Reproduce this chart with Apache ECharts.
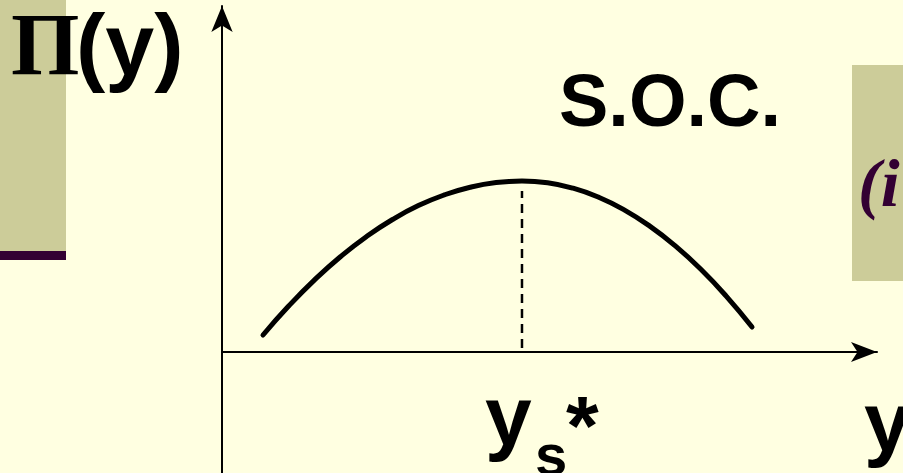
<!DOCTYPE html>
<html>
<head>
<meta charset="utf-8">
<script src="https://cdn.jsdelivr.net/npm/echarts@6/dist/echarts.min.js"></script>
<style>
html,body{margin:0;padding:0;background:#FFFFE1;}
#c{width:903px;height:473px;}
</style>
</head>
<body>
<div id="c"></div>
<script>
// Profit curve Π(y)
const curveX = [0.626, 1.021, 1.417, 1.812, 2.208, 2.603, 2.998, 3.394, 3.789, 4.185, 4.580, 4.971, 5.360, 5.751, 6.140, 6.531, 6.921, 7.311, 7.701, 8.092];
const curveY = [0.489, 1.333, 2.090, 2.758, 3.339, 3.828, 4.230, 4.539, 4.762, 4.897, 4.941, 4.889, 4.733, 4.472, 4.108, 3.637, 3.065, 2.388, 1.607, 0.720];
// dashed marker at the optimum y_s*
const optX = [4.58, 4.58];
const optY = [0.11, 4.65];
const labels = { yAxis: 'Π', yAxisArg: '(y)', soc: 'S.O.C.', opt: 'y', optSub: 's', optStar: '*', xAxis: 'y', side: '(i' };

const chart = echarts.init(document.getElementById('c'), null, {renderer: 'canvas'});
const sans = '"Liberation Sans", Arial, sans-serif';
const serif = '"Liberation Serif", "Times New Roman", serif';

chart.setOption({
  backgroundColor: '#FFFFE1',
  animation: false,
  grid: {left: 222, right: 26, top: 6, bottom: 0},
  xAxis: {
    type: 'value', min: 0, max: 10,
    axisLine: {onZero: true, symbol: ['none', 'arrow'], symbolSize: [15, 26], lineStyle: {color: '#000', width: 2}},
    axisTick: {show: false}, axisLabel: {show: false}, splitLine: {show: false}
  },
  yAxis: {
    type: 'value', min: -3.5, max: 10,
    axisLine: {symbol: ['none', 'arrow'], symbolSize: [16, 26], lineStyle: {color: '#000', width: 2}},
    axisTick: {show: false}, axisLabel: {show: false}, splitLine: {show: false}
  },
  graphic: [
    {type: 'rect', z: -10, shape: {x: 0, y: 0, width: 66, height: 251}, style: {fill: '#CCCC99'}},
    {type: 'rect', z: -10, shape: {x: 0, y: 251, width: 66, height: 9}, style: {fill: '#330033'}},
    {type: 'rect', z: -10, shape: {x: 852, y: 65, width: 51, height: 216}, style: {fill: '#CCCC99'}},
    {type: 'text', z: 10, style: {text: labels.side, x: 858, y: 188, verticalAlign: 'middle', font: 'italic bold 68px ' + serif, fill: '#330033'}},
    {type: 'text', z: 10, style: {text: labels.yAxis, x: 11, y: 51, verticalAlign: 'middle', font: 'bold 88px ' + serif, fill: '#000'}},
    {type: 'text', z: 10, style: {text: labels.yAxisArg, x: 76, y: 51, verticalAlign: 'middle', font: 'bold 88px ' + sans, fill: '#000'}},
    {type: 'text', z: 10, style: {text: labels.soc, x: 559, y: 106, verticalAlign: 'middle', font: 'bold 74px ' + sans, fill: '#000'}},
    {type: 'text', z: 10, style: {text: labels.opt, x: 485, y: 422, verticalAlign: 'middle', font: 'bold 84px ' + sans, fill: '#000'}},
    {type: 'text', z: 10, style: {text: labels.optSub, x: 535, y: 459, verticalAlign: 'middle', font: 'bold 58px ' + sans, fill: '#000'}},
    {type: 'text', z: 10, style: {text: labels.optStar, x: 566, y: 432, verticalAlign: 'middle', font: 'bold 84px ' + sans, fill: '#000'}},
    {type: 'text', z: 10, style: {text: labels.xAxis, x: 864, y: 428, verticalAlign: 'middle', font: 'bold 84px ' + sans, fill: '#000'}}
  ],
  series: [
    {
      type: 'line', smooth: true, symbol: 'none',
      data: curveX.map((x, i) => [x, curveY[i]]),
      lineStyle: {color: '#000', width: 5, cap: 'round'}
    },
    {
      type: 'line', symbol: 'none',
      data: optX.map((x, i) => [x, optY[i]]),
      lineStyle: {color: '#000', width: 2.5, type: [9, 6]}
    }
  ]
});
</script>
</body>
</html>
